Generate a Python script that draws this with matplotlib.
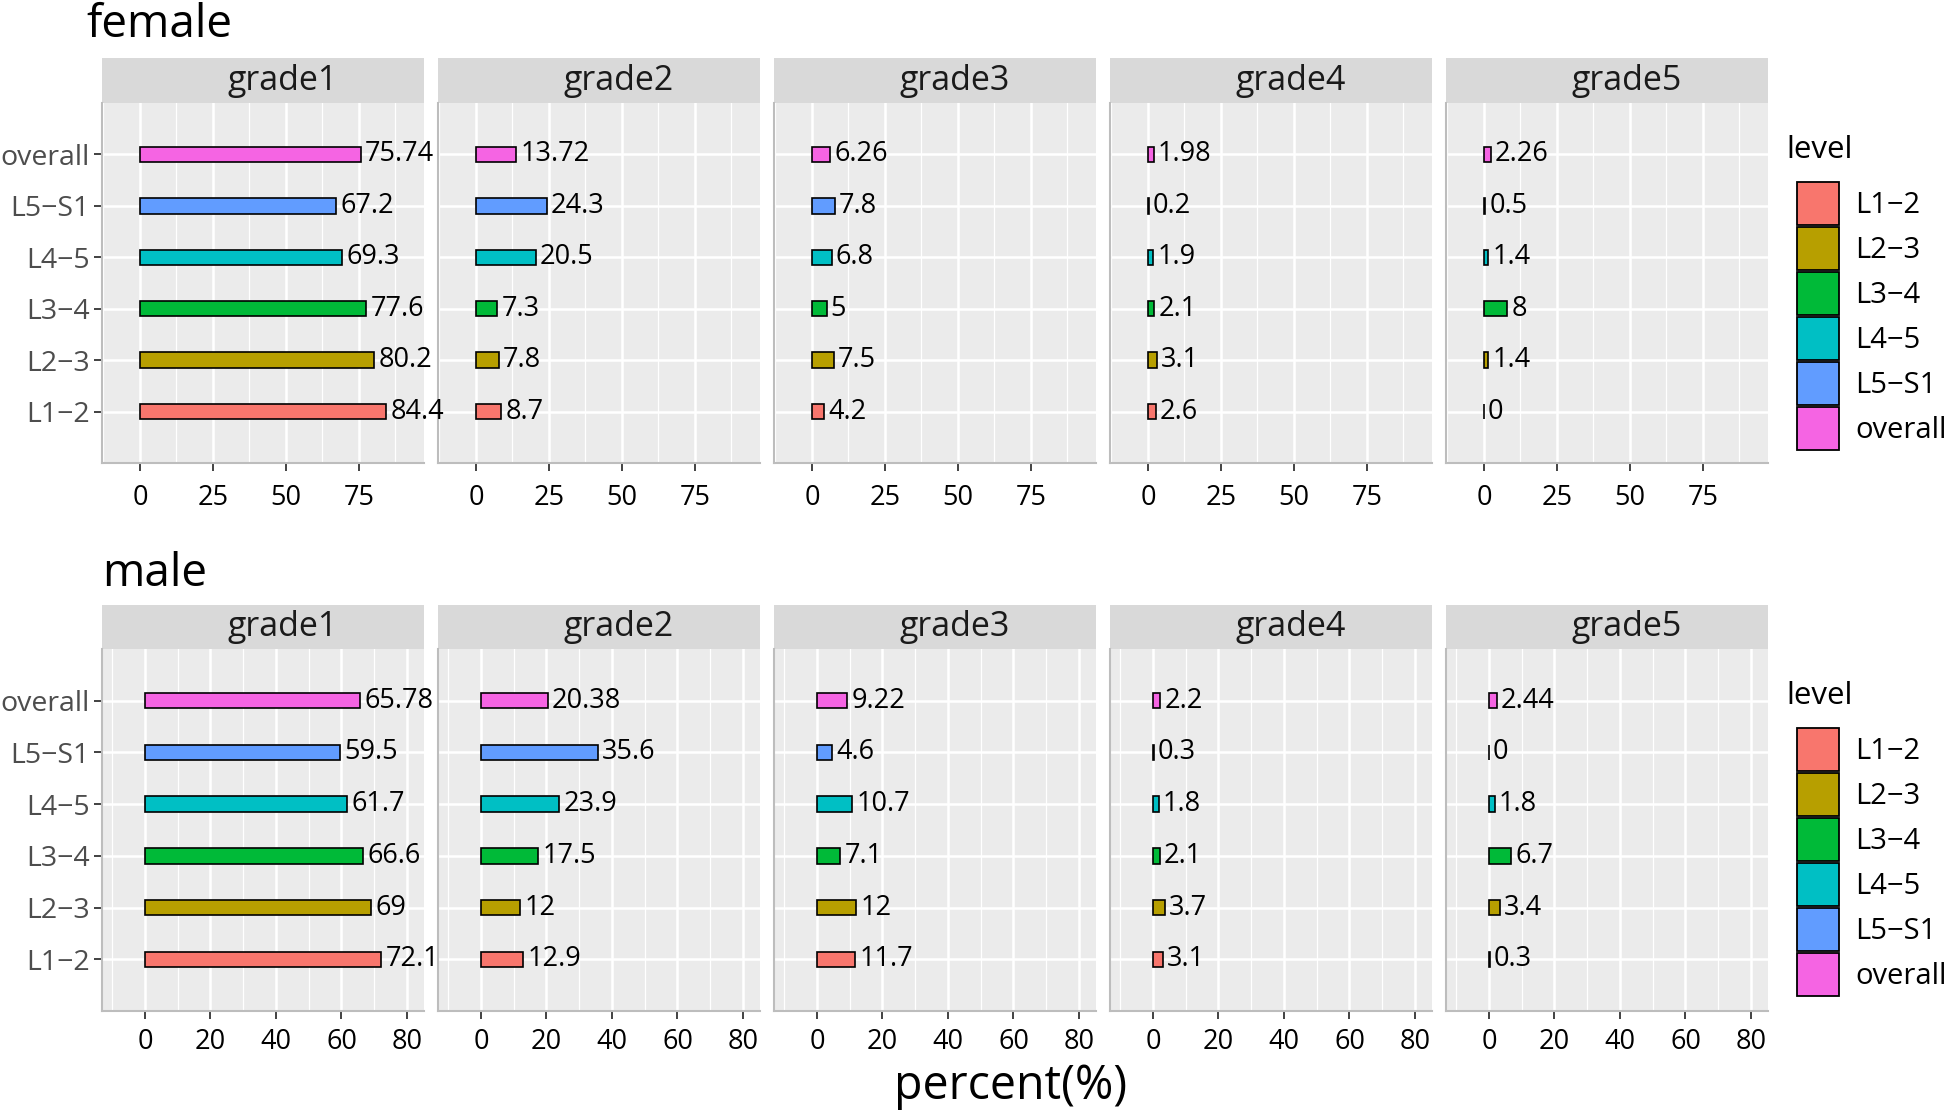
import matplotlib
matplotlib.use("Agg")
import matplotlib.pyplot as plt
from matplotlib.patches import Patch
import numpy as np

plt.rcParams['font.family'] = ['Open Sans', 'DejaVu Sans']

levels = ["L1\u22122", "L2\u22123", "L3\u22124", "L4\u22125", "L5\u2212S1", "overall"]
grades = ["grade1", "grade2", "grade3", "grade4", "grade5"]
level_colors = ["#F8766D", "#B79F00", "#00BA38", "#00BFC4", "#619CFF", "#F564E3"]

# percent per level (L1-2 ... overall) for each grade
female_grade1 = [84.4, 80.2, 77.6, 69.3, 67.2, 75.74]
female_grade2 = [8.7, 7.8, 7.3, 20.5, 24.3, 13.72]
female_grade3 = [4.2, 7.5, 5, 6.8, 7.8, 6.26]
female_grade4 = [2.6, 3.1, 2.1, 1.9, 0.2, 1.98]
female_grade5 = [0, 1.4, 8, 1.4, 0.5, 2.26]

male_grade1 = [72.1, 69, 66.6, 61.7, 59.5, 65.78]
male_grade2 = [12.9, 12, 17.5, 23.9, 35.6, 20.38]
male_grade3 = [11.7, 12, 7.1, 10.7, 4.6, 9.22]
male_grade4 = [3.1, 3.7, 2.1, 1.8, 0.3, 2.2]
male_grade5 = [0.3, 3.4, 6.7, 1.8, 0, 2.44]

female = [female_grade1, female_grade2, female_grade3, female_grade4, female_grade5]
male = [male_grade1, male_grade2, male_grade3, male_grade4, male_grade5]

W, H = 1945, 1111


def box(l, t, r, b):
    return [l / W, 1 - b / H, (r - l) / W, (b - t) / H]


def draw_row(fig, data, title, title_xy, strip_top, top, bottom, xlim, major, minor,
             xpad):
    lefts = [102, 438, 774, 1110, 1446]
    width = 322
    ypos = np.arange(1, len(levels) + 1)
    for i, (g, vals) in enumerate(zip(grades, data)):
        l = lefts[i]
        ax = fig.add_axes(box(l, top, l + width, bottom))
        # earlier columns on top so long value labels are not hidden
        ax.set_zorder(10 - i)
        ax.set_facecolor("#EBEBEB")
        ax.barh(ypos, vals, height=0.3, color=level_colors, edgecolor="black",
                linewidth=1.2, zorder=3)
        for y, v in zip(ypos, vals):
            ax.annotate(f"{v:g}", (v, y), xytext=(3, 0), textcoords="offset points",
                        ha="left", va="center", fontsize=19.5, zorder=4,
                        annotation_clip=False)
        ax.set_xlim(*xlim)
        ax.set_ylim(0, 7)
        ax.set_xticks(major)
        ax.set_xticks(minor, minor=True)
        ax.set_yticks(ypos)
        ax.grid(which="major", color="white", linewidth=1.8, zorder=0)
        ax.grid(which="minor", axis="x", color="white", linewidth=0.9, zorder=0)
        ax.set_axisbelow(True)
        for s in ["top", "right"]:
            ax.spines[s].set_visible(False)
        for s in ["left", "bottom"]:
            ax.spines[s].set_color("#BDBDBD")
            ax.spines[s].set_linewidth(1.5)
        ax.tick_params(axis="x", which="major", length=6, width=1.3, color="#333333",
                       labelsize=19.5, labelcolor="black", pad=xpad)
        ax.tick_params(axis="x", which="minor", length=0)
        if i == 0:
            ax.set_yticklabels(levels)
            ax.tick_params(axis="y", length=6, width=1.3, color="#333333",
                           labelsize=20.5, labelcolor="#4D4D4D", pad=3)
        else:
            ax.tick_params(axis="y", length=0, labelleft=False)
        sax = fig.add_axes(box(l, strip_top, l + width, top))
        sax.set_facecolor("#D9D9D9")
        sax.set_xticks([])
        sax.set_yticks([])
        for s in sax.spines.values():
            s.set_visible(False)
        sax.text(0.56, 0.5, g, ha="center", va="center", fontsize=24.5,
                 color="#1A1A1A", transform=sax.transAxes)
    fig.text(title_xy[0] / W, 1 - title_xy[1] / H, title, ha="left", va="baseline",
             fontsize=33, color="black")


fig = plt.figure(figsize=(W / 100, H / 100), dpi=100)

draw_row(fig, female, "female", (86, 37), 58, 103, 463, (-13, 97.3),
         [0, 25, 50, 75], [-12.5, 12.5, 37.5, 62.5, 87.5], 9)
draw_row(fig, male, "male", (102, 586), 605, 649, 1011, (-13.1, 85.2),
         [0, 20, 40, 60, 80], [-10, 10, 30, 50, 70], 6)

handles = [Patch(facecolor=c, edgecolor="black", linewidth=1.3, label=lv)
           for c, lv in zip(level_colors, levels)]
for box_top, title_base in [(181.5, 158), (727.5, 704)]:
    fig.legend(handles=handles, loc="upper left",
               bbox_to_anchor=(1797 / W, 1 - box_top / H), frameon=False,
               fontsize=21, handlelength=1.45, handleheight=1.92,
               labelspacing=0.05, handletextpad=0.55, borderpad=0,
               borderaxespad=0)
    fig.text(1786 / W, 1 - title_base / H, "level", ha="left", va="baseline",
             fontsize=22.5)

fig.text(1011 / W, 1 - 1086 / H, "percent(%)", ha="center", va="center",
         fontsize=33.5)

fig.savefig("out.png", dpi=100)
